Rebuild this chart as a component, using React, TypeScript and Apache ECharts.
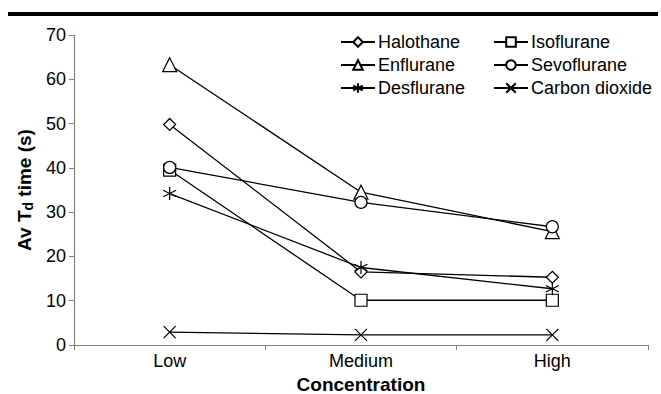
import React, { useEffect, useRef } from "react";
import * as echarts from "echarts";

const categories = ["Low", "Medium", "High"];
const halothane = [49.8, 16.5, 15.3];
const isoflurane = [39.5, 10.1, 10.1];
const enflurane = [63.3, 34.5, 25.6];
const sevoflurane = [40.1, 32.2, 26.7];
const desflurane = [34.2, 17.5, 12.7];
const carbonDioxide = [2.9, 2.3, 2.3];

const ASTERISK = "path://M5 0 L5 10 M0.67 2.5 L9.33 7.5 M0.67 7.5 L9.33 2.5";
const CROSS = "path://M0 0 L10 10 M10 0 L0 10";

export default function App() {
  const ref = useRef<HTMLDivElement>(null);
  useEffect(() => {
    if (!ref.current) return;
    const chart = echarts.init(ref.current, null, { renderer: "svg" });
    const font = "Liberation Sans, Arial, sans-serif";
    const mk = (name: string, data: number[], symbol: string, size: number) => ({
      name,
      type: "line",
      data,
      symbol,
      symbolSize: size,
      showAllSymbol: true,
      lineStyle: { color: "#000", width: 1.3 },
      itemStyle: { color: "#fff", borderColor: "#000", borderWidth: 1.2 },
      emphasis: { disabled: true },
    });
    const legendCommon = {
      orient: "vertical",
      top: 33,
      padding: 0,
      itemWidth: 34,
      itemHeight: 12,
      itemGap: 5,
      textStyle: { fontFamily: font, fontSize: 18, color: "#000", padding: [0, 0, 0, -2] },
    };
    chart.setOption({
      animation: false,
      backgroundColor: "#fff",
      textStyle: { fontFamily: font },
      graphic: [
        { type: "rect", shape: { x: 8, y: 12, width: 650, height: 4 }, style: { fill: "#000" } },
      ],
      grid: { left: 74, right: 13, top: 35, bottom: 49, outerBoundsMode: "none", containLabel: false },
      legend: [
        { ...legendCommon, data: ["Halothane", "Enflurane", "Desflurane"], left: 340 },
        { ...legendCommon, data: ["Isoflurane", "Sevoflurane", "Carbon dioxide"], left: 493 },
      ],
      xAxis: {
        type: "category",
        data: categories,
        boundaryGap: true,
        name: "Concentration",
        nameLocation: "middle",
        nameGap: 24,
        nameTextStyle: { fontFamily: font, fontSize: 19, fontWeight: "bold", color: "#000" },
        axisLine: { lineStyle: { color: "#808080", width: 1.2 } },
        axisTick: { show: true, length: 5, lineStyle: { color: "#808080" } },
        axisLabel: { fontFamily: font, fontSize: 18, color: "#000", margin: 7 },
      },
      yAxis: {
        type: "value",
        min: 0,
        max: 70,
        interval: 10,
        name: "{a|Av T}{sub|d}{a| time (s)}",
        nameLocation: "middle",
        nameRotate: 90,
        nameGap: 36,
        nameTextStyle: {
          rich: {
            a: { fontFamily: font, fontSize: 19, fontWeight: "bold", color: "#000" },
            sub: { fontFamily: font, fontSize: 14, fontWeight: "bold", color: "#000", verticalAlign: "bottom", padding: [8, 0, 0, 0] },
          },
        },
        axisLine: { show: true, lineStyle: { color: "#808080", width: 1.2 } },
        axisTick: { show: true, length: 5, lineStyle: { color: "#808080" } },
        splitLine: { show: false },
        axisLabel: { fontFamily: font, fontSize: 18, color: "#000", margin: 8 },
      },
      series: [
        mk("Halothane", halothane, "diamond", 12),
        mk("Isoflurane", isoflurane, "rect", 12),
        mk("Enflurane", enflurane, "triangle", 14),
        mk("Sevoflurane", sevoflurane, "circle", 12),
        mk("Desflurane", desflurane, ASTERISK, 13),
        mk("Carbon dioxide", carbonDioxide, CROSS, 12),
      ],
    });
    return () => chart.dispose();
  }, []);
  return (
    <div
      ref={ref}
      style={{ position: "absolute", left: 0, top: 0, width: 661, height: 394 }}
    />
  );
}
